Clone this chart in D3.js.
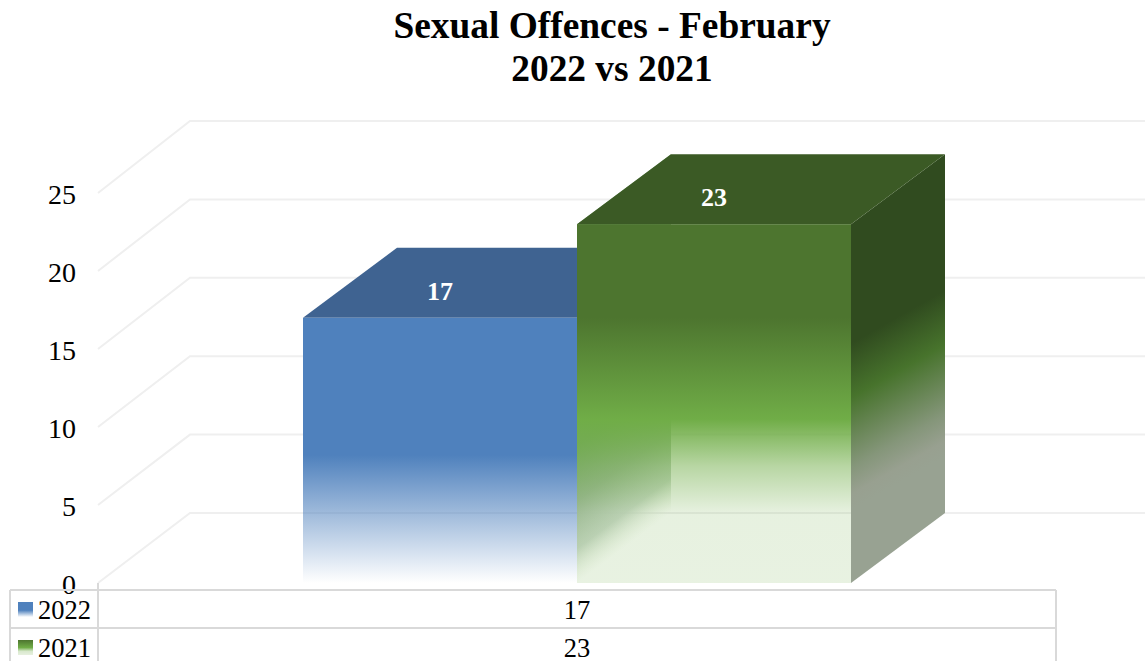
<!DOCTYPE html>
<html><head><meta charset="utf-8">
<script src="https://cdn.jsdelivr.net/npm/d3@7/dist/d3.min.js"></script>
<style>html,body{margin:0;padding:0;background:#fff}svg{display:block}text{font-family:"Liberation Serif",serif}</style>
</head><body><div id="c"></div>
<script>
const titleLines = ["Sexual Offences - February", "2022 vs 2021"];
const seriesNames = ["2022", "2021"];
const seriesValues = [17, 23];
const yTicks = [0, 5, 10, 15, 20, 25];

const W = 1145, H = 661;
const DX = 94, DY = -70;
const svg = d3.select("#c").append("svg").attr("width", W).attr("height", H);
const defs = svg.append("defs");
const y = d3.scaleLinear().domain([0, 25]).range([583, 193]);
const yBack = d3.scaleLinear().domain([0, 25]).range([513, 121]);
const x = d3.scaleBand().domain(seriesNames).range([303, 851]);
const rowY = d3.scaleBand().domain(seriesNames).range([590, 666]);

function grad(id, x1, y1, x2, y2, stops) {
  const g = defs.append("linearGradient").attr("id", id).attr("gradientUnits", "userSpaceOnUse")
    .attr("x1", x1).attr("y1", y1).attr("x2", x2).attr("y2", y2);
  stops.forEach(s => g.append("stop").attr("offset", s[0]).attr("stop-color", s[1]).attr("stop-opacity", s[2] === undefined ? 1 : s[2]));
}
const poly = pts => pts.map(p => p.join(",")).join(" ");

// title
svg.append("g").selectAll("text").data(titleLines).join("text")
  .attr("x", 612).attr("y", (d, i) => 38 + i * 43)
  .attr("text-anchor", "middle").attr("font-weight", "bold").attr("font-size", 37.4).attr("fill", "#000")
  .text(d => d);

// gridlines: walls
const grid = svg.append("g").attr("fill", "none").attr("stroke", "#efefef").attr("stroke-width", 2);
grid.selectAll("polyline").data(yTicks).join("polyline")
  .attr("points", d => poly([[98, y(d)], [98 + DX - 2, yBack(d)], [W, yBack(d)]]));

// y axis labels
const axis = d3.axisLeft(y).tickValues(yTicks).tickSize(0).tickPadding(0);
const ag = svg.append("g").attr("transform", "translate(76,0)").call(axis);
ag.select(".domain").remove();
ag.selectAll("text").attr("font-size", 28).attr("fill", "#000").style("font-family", '"Liberation Serif",serif').attr("dy", "0.36em");

// palette
const pal = {
  "2022": {top: "#3f6391"},
  "2021": {top: "#3b5a25"}
};

// gradients
seriesNames.forEach((n, i) => {
  const v = seriesValues[i], t = y(v), b = y(0);
  if (n === "2022") {
    grad("front" + n, 0, t, 0, b, [[0, "#4f81bd"], [(y(8.2) - t) / (b - t), "#4f81bd"], [1, "#4f81bd", 0]]);
  } else {
    const o = p => (y(p) - t) / (b - t);
    grad("front" + n, 0, t, 0, b, [[0, "#4d752f"], [o(17), "#4d752f"], [o(10.5), "#70ad47"], [o(7.5), "#70ad47", 0.5], [o(4.5), "#70ad47", 0.17], [1, "#70ad47", 0.16]]);
    const xr = x(n) + x.bandwidth();
    grad("side" + n, xr + 47, y(18.8), xr + 130, y(9.4), [[0, "#304b1f"], [0.14, "#304b1f"], [0.42, "#47732c"], [0.78, "#85967a"], [0.92, "#98a090"], [1, "#98a292"]]);
    const xl = x(n);
    const ex = xl + DX / 2, ey = b + DY / 2;
    grad("left" + n, ex - 66, ey - 88, ex, ey, [[0, "#7fa873"], [0.4, "#9fb89b"], [0.75, "#c3d3c2", 0.9], [1, "#e7f0df", 0]]);
  }
});

// bars
const bars = svg.append("g").selectAll("g").data(seriesNames).join("g");
bars.each(function (n, i) {
  const g = d3.select(this), v = seriesValues[i];
  const x0 = x(n), x1 = x0 + x.bandwidth(), t = y(v), b = y(0);
  if (n === "2021") {
    g.append("polygon").attr("points", poly([[x0, t], [x0 + DX, t + DY], [x0 + DX, b + DY], [x0, b]])).attr("fill", "url(#left2021)");
    g.append("polygon").attr("points", poly([[x1, t], [x1 + DX, t + DY], [x1 + DX, b + DY], [x1, b]])).attr("fill", "url(#side2021)");
  }
  g.append("polygon").attr("points", poly([[x0, t], [x0 + DX, t + DY], [x1 + DX, t + DY], [x1, t]])).attr("fill", pal[n].top);
  g.append("rect").attr("x", x0).attr("y", t).attr("width", x.bandwidth()).attr("height", b - t).attr("fill", "url(#front" + n + ")");
});

// data labels
svg.append("g").selectAll("text").data(seriesNames).join("text")
  .attr("x", n => x(n) + x.bandwidth() / 2)
  .attr("y", (n, i) => y(seriesValues[i]) + DY / 2 + 17)
  .attr("text-anchor", "middle").attr("font-weight", "bold").attr("font-size", 26).attr("fill", "#fff")
  .text((n, i) => seriesValues[i]);

// data table
const tbl = svg.append("g");
const L = 10, M = 98, R = 1056;
tbl.append("line").attr("x1", M).attr("x2", M).attr("y1", y(0)).attr("y2", H).attr("stroke", "#d9d9d9").attr("stroke-width", 2);
[L, R].forEach(px => tbl.append("line").attr("x1", px).attr("x2", px).attr("y1", rowY.range()[0]).attr("y2", H).attr("stroke", "#d9d9d9").attr("stroke-width", 2));
seriesNames.forEach(n => {
  tbl.append("line").attr("x1", L).attr("x2", R).attr("y1", rowY(n)).attr("y2", rowY(n)).attr("stroke", "#d9d9d9").attr("stroke-width", 2);
});
seriesNames.forEach((n, i) => {
  grad("key" + n, 0, rowY(n) + 12, 0, rowY(n) + 27,
    n === "2022" ? [[0, "#4f81bd"], [0.55, "#4f81bd"], [1, "#ffffff"]]
                 : [[0, "#4d752f"], [0.5, "#70ad47"], [0.75, "#d8e8cd"], [1, "#e7f0df"]]);
  tbl.append("rect").attr("x", 18).attr("y", rowY(n) + 12).attr("width", 15).attr("height", 15).attr("fill", "url(#key" + n + ")");
  tbl.append("text").attr("x", 38).attr("y", rowY(n) + 29).attr("font-size", 26.5).attr("fill", "#000").text(n);
  tbl.append("text").attr("x", (M + R) / 2).attr("y", rowY(n) + 29).attr("text-anchor", "middle").attr("font-size", 26.5).attr("fill", "#000").text(seriesValues[i]);
});
</script></body></html>
